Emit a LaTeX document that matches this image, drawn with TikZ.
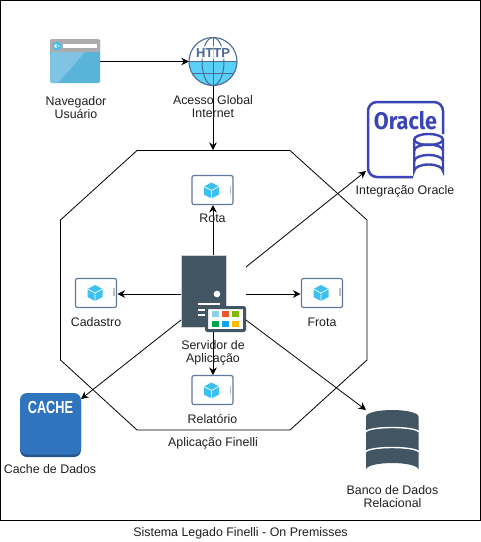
\documentclass[tikz,border=0pt]{standalone}
\usepackage{fontspec}
\setmainfont{Liberation Sans}
\newfontfamily\oraclefont{Fira Sans}
\usetikzlibrary{arrows.meta,calc}
\definecolor{slateicon}{HTML}{425563}
\definecolor{orablue}{HTML}{3B45B5}
\definecolor{cacheblue}{HTML}{2F74BC}
\definecolor{cachedark}{HTML}{24558C}
\definecolor{skyblue}{HTML}{5AB4DA}
\definecolor{skylight}{HTML}{7FC4E2}
\definecolor{globeline}{HTML}{4D6A94}
\definecolor{globefill}{HTML}{59D0F8}
\definecolor{appframe}{HTML}{5E789E}
\definecolor{cube}{HTML}{3CC0F0}
\tikzset{
 lbl/.style={font=\fontsize{12.4}{13.3}\selectfont, align=center, inner sep=0pt, text=black!88},
 conn/.style={draw=black, line width=0.8pt, -{Stealth[length=7.5pt,width=7.5pt]}},
 appbox/.style={draw=appframe, fill=white, line width=1.2pt, rounded corners=2pt, minimum width=41pt, minimum height=29pt, inner sep=0pt},
}
\newcommand{\appicon}[1]{%
 \fill[cube] ($(#1)+(0,-8)$) -- ($(#1)+(7.5,-4)$) -- ($(#1)+(7.5,4)$) -- ($(#1)+(0,8)$) -- ($(#1)+(-7.5,4)$) -- ($(#1)+(-7.5,-4)$) -- cycle;
 \draw[white, line width=0.7pt] ($(#1)+(-7.5,-4)$) -- (#1) -- ($(#1)+(7.5,-4)$) (#1) -- ($(#1)+(0,8)$);
 \fill[gray!50] ($(#1)+(18,-5)$) rectangle ($(#1)+(19.5,3)$);
}
\begin{document}
\begin{tikzpicture}[x=1pt,y=-1pt]
\useasboundingbox (0,0) rectangle (481,542);
\fill[white] (0,0) rectangle (481,542);
\draw[black, line width=1pt] (0.5,0.5) rectangle (480.5,520.5);
% octagon
\draw[black, line width=0.8pt] (137,150.5) -- (290,150.5) -- (367,220) -- (367,360) -- (290,430) -- (137,430) -- (60.5,360) -- (60.5,220) -- cycle;
% browser
\node[inner sep=0pt, minimum width=50pt, minimum height=44pt] (browser) at (75,61.5) {};
\fill[skyblue, rounded corners=1.5pt] (50,39) rectangle (100,83);
\fill[skylight, rounded corners=1.5pt] (50,52) -- (85,52) -- (58,83) -- (50,83) -- cycle;
\fill[gray!65, rounded corners=1.5pt] (50,39) rectangle (100,52);
\fill[white] (63,44) rectangle (97,48);
\fill[cube] (57,46) circle (4.3);
\draw[white, line width=0.8pt] (54.5,46) -- (60,46) (56.5,44) -- (54.5,46) -- (56.5,48);
% globe
\node[circle, inner sep=0pt, minimum size=48pt] (globe) at (213,61.5) {};
\fill[white] (213,61.5) circle (24);
\begin{scope}
\clip (213,61.5) circle (24);
\fill[globefill] (189,61.5) rectangle (237,86);
\end{scope}
\draw[globeline, line width=1.1pt] (213,61.5) circle (24);
\draw[globeline, line width=1pt] (213,61.5) ellipse (11 and 24);
\draw[globeline, line width=1pt] (213,37.5) -- (213,85.5);
\draw[globeline, line width=1pt] (189,61.5) -- (237,61.5);
\draw[globeline, line width=1pt] (193,73) -- (233,73);
\fill[white, opacity=.7] (197,46) rectangle (230,59);
\node[inner sep=0pt, text=globeline, font=\fontsize{13}{13}\selectfont\bfseries] at (213,53) {HTTP};
% oracle
\node[inner sep=0pt, minimum width=77pt, minimum height=77pt] (oracle) at (405.5,139.5) {};
\draw[orablue, line width=2.5pt, rounded corners=9pt] (413,177) -- (368,177) -- (368,102) -- (443,102) -- (443,134);
\node[inner sep=0pt, text=orablue, font=\fontsize{24}{24}\oraclefont\bfseries, xscale=.9, transform shape] at (405.5,120.5) {Oracle};
\draw[orablue, line width=2.4pt, fill=white] (414.2,139) -- (414.2,171) arc[start angle=180, end angle=360, x radius=14.4, y radius=6.5] -- (443,139);
\draw[orablue, line width=2.4pt, fill=white] (428.6,139.5) ellipse (14.4 and 5.5);
\draw[orablue, line width=2.4pt] (414.2,150.5) arc[start angle=180, end angle=360, x radius=14.4, y radius=6];
\draw[orablue, line width=2.4pt] (414.2,161) arc[start angle=180, end angle=360, x radius=14.4, y radius=6];
% server
\node[fill=slateicon, draw=gray!35, line width=0.7pt, inner sep=0pt, minimum width=45pt, minimum height=72pt] (server) at (203.5,291) {};
\fill[white] (217,294) circle (3.3);
\fill[white] (198,303) rectangle (220,304.5);
\fill[white] (198,309) rectangle (206,310.5);
\fill[white] (198,314) rectangle (206,315.5);
% window badge
\node[draw=slateicon, fill=white, line width=3pt, inner sep=0pt, minimum width=38pt, minimum height=23pt, rounded corners=1pt] (badge) at (225.5,319) {};
\foreach \cx/\cy/\cc in {215.5/314/8FD0E4,225.5/314/F0552A,235.5/314/7FBA00,215.5/323.5/00A84D,225.5/323.5/10A5EF,235.5/323.5/FFB900}{
 \definecolor{tmpc}{HTML}{\cc}
 \fill[tmpc] (\cx-3.5,\cy-3) rectangle (\cx+3.5,\cy+3);
}
% app boxes
\node[appbox] (rota) at (212.5,190) {};
\node[appbox] (cadastro) at (96,293) {};
\node[appbox] (frota) at (322,293) {};
\node[appbox] (relatorio) at (212.5,390) {};
\appicon{211.5,190.5}
\appicon{95,293}
\appicon{321,293}
\appicon{211.5,390.5}
% cache
\node[inner sep=0pt, minimum width=61pt, minimum height=64pt] (cache) at (50.5,425) {};
\fill[cachedark, rounded corners=7pt] (20,396) rectangle (81,457);
\fill[cacheblue, rounded corners=7pt] (20,393) rectangle (81,454.5);
\node[inner sep=0pt, text=white, font=\fontsize{17.5}{17.5}\selectfont\bfseries, xscale=.73, transform shape] at (50.5,407) {CACHE};
% database
\node[inner sep=0pt, minimum width=53pt, minimum height=66pt] (db) at (392.5,443) {};
\fill[slateicon] (366,417) -- (366,469.5) arc[start angle=180, end angle=360, x radius=26.25, y radius=6.5] -- (418.5,417) -- cycle;
\fill[slateicon] (392.25,416.5) ellipse (26.25 and 6.5);
\draw[white, line width=1.4pt] (366,432) arc[start angle=180, end angle=360, x radius=26.25, y radius=4.5];
\draw[white, line width=1.4pt] (366,452) arc[start angle=180, end angle=360, x radius=26.25, y radius=4.5];
% connector ends
\coordinate (sT) at (213,255);
\coordinate (sL) at (181,294);
\coordinate (sR) at (246,294);
\coordinate (sUR) at (246,267);
\coordinate (sLL) at (181,320);
\coordinate (sLR) at (246,320);
\coordinate (sB) at (213,332);
\coordinate (oT) at (366,171);
\coordinate (cT) at (81,399);
\coordinate (dT) at (366,410);
\coordinate (gB) at (213,86);
\coordinate (octTop) at (213,150);
\coordinate (rT) at (213,205);
\coordinate (cE) at (117.5,294);
\coordinate (fW) at (300.5,294);
\coordinate (relT) at (213,375);
% connectors
\draw[conn] (browser.east) -- (globe.west);
\draw[conn] (gB) -- (octTop);
\draw[conn] (sT) -- (rT);
\draw[conn] (sL) -- (cE);
\draw[conn] (sR) -- (fW);
\draw[conn] (sUR) -- (oT);
\draw[conn] (sLL) -- (cT);
\draw[conn] (sLR) -- (dT);
\draw[conn] (sB) -- (relT);
% labels
\node[lbl] (l1) at (76,107.5) {Navegador\\Usuário};
\node[lbl] (l2) at (213,106.5) {Acesso Global\\Internet};
\node[lbl] (l3) at (405,191.5) {Integração Oracle};
\node[lbl] (l4) at (212.5,218.5) {Rota};
\node[lbl] (l5) at (96,322.5) {Cadastro};
\node[lbl] (l6) at (322,322.5) {Frota};
\node[lbl] (l7) at (213,352.5) {Servidor de\\Aplicação};
\node[lbl] (l8) at (212.5,418.5) {Relatório};
\node[lbl] (l9) at (213,443) {Aplicação Finelli};
\node[lbl] (l10) at (50,469.5) {Cache de Dados};
\node[lbl] (l11) at (392.5,496.5) {Banco de Dados\\Relacional};
\node[lbl] (l12) at (240.5,533.5) {Sistema Legado Finelli - On Premisses};
\end{tikzpicture}
\end{document}
